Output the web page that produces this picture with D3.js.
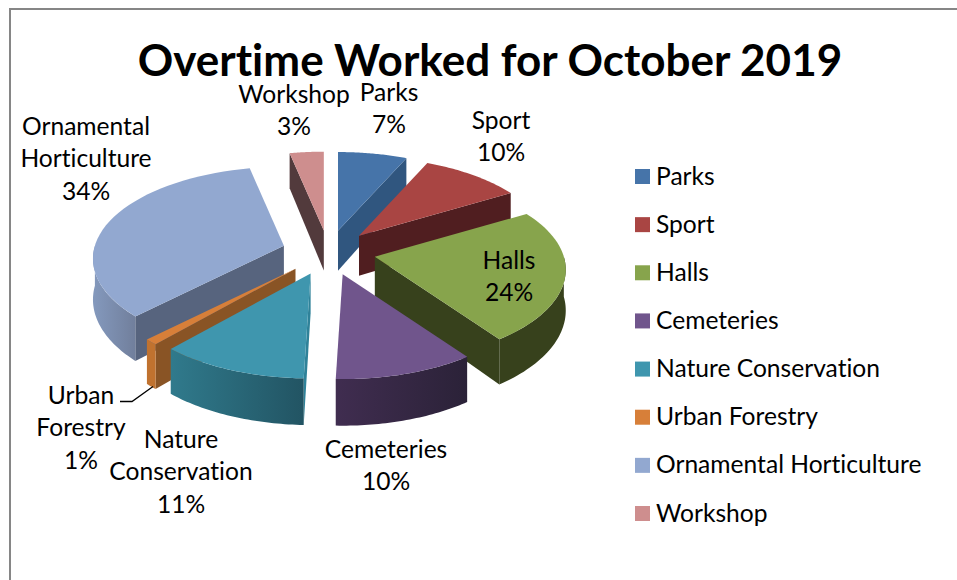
<!DOCTYPE html>
<html>
<head>
<meta charset="utf-8">
<script src="https://cdn.jsdelivr.net/npm/d3@7"></script>
<style>
  html, body { margin: 0; padding: 0; background: #fff; overflow: hidden; }
  text { font-family: Lato, "Open Sans", sans-serif; fill: #000; font-variant-ligatures: none; }
</style>
</head>
<body>
<div id="chart"></div>
<script>
const categories = ["Parks", "Sport", "Halls", "Cemeteries", "Nature Conservation", "Urban Forestry", "Ornamental Horticulture", "Workshop"];
// estimated from the slice edges, the labels round them to whole percents
const values = [6.7, 9.8, 23.6, 10.4, 11, 1, 34.2, 3.3];
const titleText = "Overtime Worked for October 2019";

// styles per slice
const topColors = ["#4674a9", "#a94543", "#87a44c", "#70558c", "#3f96ae", "#d77f39", "#92a8d0", "#ce8e8e"];
const cutColors = ["#30567f", "#501e20", "#37411c", "#2c2239", "#2f8299", "#895425", "#57647e", "#523a3c"];
const wallLeft  = ["#30567f", "#501e20", "#37411c", "#402d50", "#307a8c", "#c0722f", "#8499bd", "#523a3c"];
const wallRight = ["#30567f", "#501e20", "#37411c", "#2b2238", "#225463", "#c0722f", "#717f9c", "#523a3c"];

// label placement: lines of text, centre x, first baseline
const labelLayout = [
  {lines: ["Parks", "7%"], x: 389, y: 100.5},
  {lines: ["Sport", "10%"], x: 501, y: 128.5},
  {lines: ["Halls", "24%"], x: 509, y: 268.5},
  {lines: ["Cemeteries", "10%"], x: 386, y: 457.5},
  {lines: ["Nature", "Conservation", "11%"], x: 181, y: 447.5},
  {lines: ["Urban", "Forestry", "1%"], x: 81, y: 403.5},
  {lines: ["Ornamental", "Horticulture", "34%"], x: 86, y: 134.5},
  {lines: ["Workshop", "3%"], x: 294, y: 102.5}
];

const W = 957, H = 580;
const cx = 328.5, cy = 252;    // pie centre on screen
const R = 189, Ry = 90;        // radius and squashed radius
const persp = 0.142;           // front of pie gets bigger than back
const explode = 47, depth = 40;

const svg = d3.select("#chart").append("svg")
    .attr("width", W)
    .attr("height", H);

// Frame (runs off the page right and bottom)
svg.append("rect")
    .attr("x", 10).attr("y", 9)
    .attr("width", W + 20).attr("height", H + 20)
    .attr("fill", "#fff")
    .attr("stroke", "#868686")
    .attr("stroke-width", 2);

svg.append("text")
    .attr("x", 490).attr("y", 75.5)
    .attr("text-anchor", "middle")
    .attr("font-size", 44)
    .attr("font-weight", 700)
    .text(titleText);

// perspective factor for a point on the pie plane, Z away from the viewer
const scaleAt = Z => 1 / (1 + persp * Z / R);

const pie = d3.pie().sort(null).value(d => d);
const line = d3.line();
const slices = pie(values).map((s, i) => {
  const mid = (s.startAngle + s.endAngle) / 2;
  const ox = explode * Math.sin(mid), oz = explode * Math.cos(mid);
  const p = scaleAt(oz);
  return {i, a0: s.startAngle, a1: s.endAngle, oz,
          tipX: cx + ox * p, tipY: cy - (Ry / R) * oz * p};
});

function rim(s, a, down) {
  const p = scaleAt(R * Math.cos(a));
  return [s.tipX + R * Math.sin(a) * p, s.tipY - Ry * Math.cos(a) * p + down * p];
}
function apex(s, down) {
  return [s.tipX, s.tipY + down];
}
function arcPoints(s, a0, a1, down) {
  return d3.range(0, 41).map(k => rim(s, a0 + (a1 - a0) * k / 40, down));
}

const defs = svg.append("defs");
const pieG = svg.append("g");

// back to front
slices.slice().sort((a, b) => b.oz - a.oz).forEach(s => {
  const g = pieG.append("g");

  // cut faces that look toward the viewer
  if (Math.sin(s.a0) < 0) {
    g.append("path")
      .attr("d", line([apex(s, 0), rim(s, s.a0, 0), rim(s, s.a0, depth), apex(s, depth)]) + "Z")
      .attr("fill", cutColors[s.i]);
  }
  if (Math.sin(s.a1) > 0) {
    g.append("path")
      .attr("d", line([apex(s, 0), rim(s, s.a1, 0), rim(s, s.a1, depth), apex(s, depth)]) + "Z")
      .attr("fill", cutColors[s.i]);
  }

  // outer wall, front half only
  const w0 = Math.max(s.a0, Math.PI / 2), w1 = Math.min(s.a1, 3 * Math.PI / 2);
  if (w1 > w0) {
    const topEdge = arcPoints(s, w0, w1, 0);
    const botEdge = arcPoints(s, w0, w1, depth).reverse();
    const xs = topEdge.map(d => d[0]);
    const grad = defs.append("linearGradient")
        .attr("id", "wall" + s.i)
        .attr("gradientUnits", "userSpaceOnUse")
        .attr("x1", d3.min(xs)).attr("x2", d3.max(xs))
        .attr("y1", 0).attr("y2", 0);
    grad.append("stop").attr("offset", 0).attr("stop-color", wallLeft[s.i]);
    grad.append("stop").attr("offset", 1).attr("stop-color", wallRight[s.i]);
    g.append("path")
      .attr("d", line(topEdge.concat(botEdge)) + "Z")
      .attr("fill", `url(#wall${s.i})`);
  }

  // top face
  g.append("path")
    .attr("d", line([apex(s, 0)].concat(arcPoints(s, s.a0, s.a1, 0))) + "Z")
    .attr("fill", topColors[s.i]);
});

// Data labels
const labels = svg.append("g").attr("font-size", 24.6);
labelLayout.forEach(l => {
  l.lines.forEach((t, k) => {
    labels.append("text")
      .attr("x", l.x)
      .attr("y", l.y + k * 32.7)
      .attr("text-anchor", "middle")
      .text(t);
  });
});

// Leader for Urban Forestry
svg.append("path")
    .attr("d", line([[120, 401.5], [132, 401.5], [153, 386.5]]))
    .attr("fill", "none")
    .attr("stroke", "#000")
    .attr("stroke-width", 1.3);

// Legend
const legendY = d3.scalePoint()
    .domain(categories)
    .range([169, 506]);

const legend = svg.append("g").selectAll("g")
    .data(categories)
    .enter()
    .append("g")
    .attr("transform", d => `translate(635,${legendY(d)})`);

legend.append("rect")
    .attr("width", 15)
    .attr("height", 15)
    .attr("fill", (d, i) => topColors[i]);

legend.append("text")
    .attr("x", 21)
    .attr("y", 15.5)
    .attr("font-size", 24.6)
    .text(d => d);
</script>
</body>
</html>
